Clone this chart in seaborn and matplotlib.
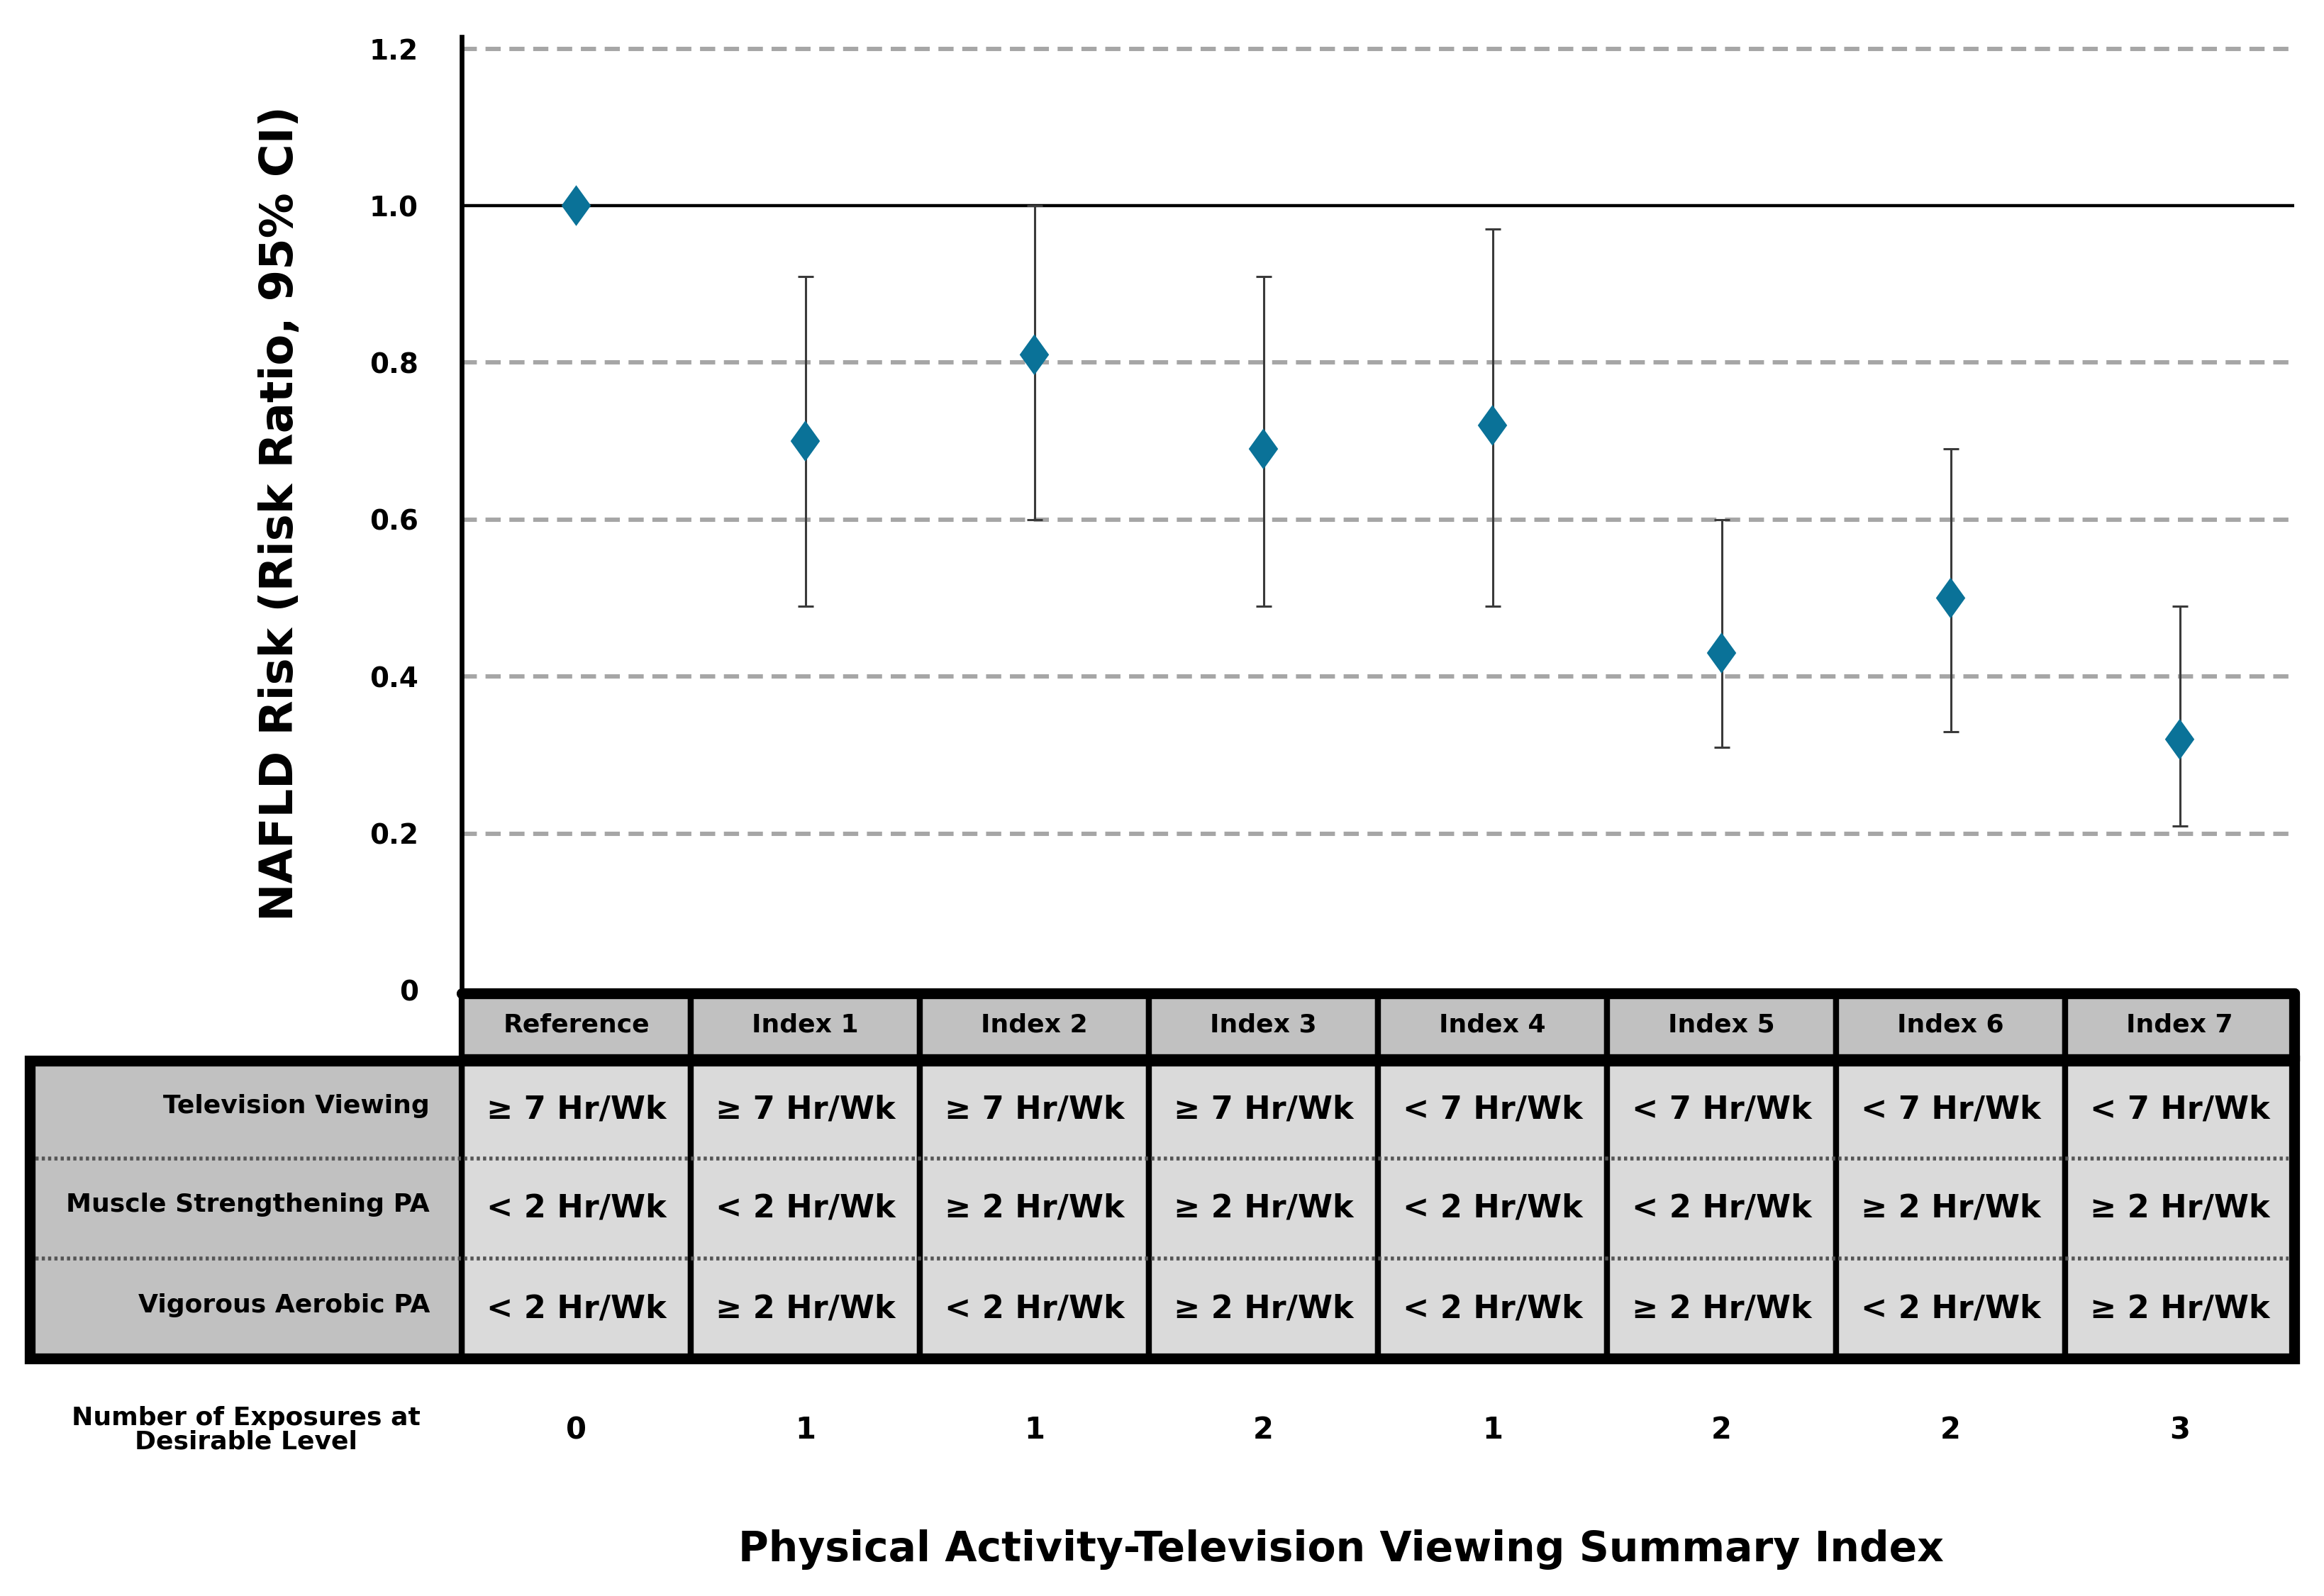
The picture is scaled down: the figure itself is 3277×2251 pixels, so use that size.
import numpy as np
import pandas as pd
import matplotlib
matplotlib.use("Agg")
import matplotlib.pyplot as plt
from matplotlib.patches import Rectangle
import seaborn as sns

# data
groups = ["Reference", "Index 1", "Index 2", "Index 3", "Index 4", "Index 5", "Index 6", "Index 7"]
risk_ratio = [1.00, 0.70, 0.81, 0.69, 0.72, 0.43, 0.50, 0.32]
ci_low = [1.00, 0.49, 0.60, 0.49, 0.49, 0.31, 0.33, 0.21]
ci_high = [1.00, 0.91, 1.00, 0.91, 0.97, 0.60, 0.69, 0.49]
row_names = ["Television Viewing", "Muscle Strengthening PA", "Vigorous Aerobic PA"]
tv = ["≥ 7 Hr/Wk"] * 4 + ["< 7 Hr/Wk"] * 4
muscle = ["< 2 Hr/Wk", "< 2 Hr/Wk", "≥ 2 Hr/Wk", "≥ 2 Hr/Wk", "< 2 Hr/Wk", "< 2 Hr/Wk", "≥ 2 Hr/Wk", "≥ 2 Hr/Wk"]
vigorous = ["< 2 Hr/Wk", "≥ 2 Hr/Wk", "< 2 Hr/Wk", "≥ 2 Hr/Wk", "< 2 Hr/Wk", "≥ 2 Hr/Wk", "< 2 Hr/Wk", "≥ 2 Hr/Wk"]
n_exposures = [0, 1, 1, 2, 1, 2, 2, 3]
yticks = [0, 0.2, 0.4, 0.6, 0.8, 1.0, 1.2]

df = pd.DataFrame({"pos": np.arange(len(groups)), "rr": risk_ratio,
                   "lo": ci_low, "hi": ci_high})

sns.set_style("white")
plt.rcParams["font.family"] = ["DejaVu Sans"]
plt.rcParams["font.weight"] = "bold"
plt.rcParams["text.color"] = "black"
plt.rcParams["ytick.color"] = "black"
plt.rcParams["axes.labelcolor"] = "black"

W, H = 3277, 2251
fig = plt.figure(figsize=(W / 200, H / 200), dpi=200)

# pixel layout
left, right = 651, 3235
y0_px, top_px = 1397, 52
ax = fig.add_axes([left / W, 1 - y0_px / H, (right - left) / W, (y0_px - top_px) / H])
ax.set_xlim(-0.5, 7.5)
ax.set_ylim(0, 1.215)

for v in [0.2, 0.4, 0.6, 0.8, 1.2]:
    ax.axhline(v, color="#a6a6a6", lw=2.2, ls=(0, (3.5, 2)), zorder=1)
ax.axhline(1.0, color="black", lw=1.6, zorder=1)

ax.errorbar(df["pos"][1:], df["rr"][1:],
            yerr=[df["rr"][1:] - df["lo"][1:], df["hi"][1:] - df["rr"][1:]],
            fmt="none", ecolor="#3a3a3a", elinewidth=1.1, capsize=4, capthick=1.1, zorder=2)
diamond = [(0, 1), (0.72, 0), (0, -1), (-0.72, 0), (0, 1)]
sns.scatterplot(data=df, x="pos", y="rr", marker=diamond, s=430, color="#0A7298",
                edgecolor="none", ax=ax, zorder=3)

ax.set_yticks(yticks)
ax.set_yticklabels(["0" if t == 0 else f"{t:.1f}" for t in yticks], fontsize=14, fontweight="bold")
ax.tick_params(axis="y", length=0, pad=22)
ax.set_xticks([])
ax.set_xlabel("")
ax.set_ylabel("NAFLD Risk (Risk Ratio, 95% CI)", fontsize=23, fontweight="bold", labelpad=34)
for s in ["top", "right", "bottom"]:
    ax.spines[s].set_visible(False)
ax.spines["left"].set_linewidth(2.4)
ax.spines["left"].set_color("black")

# table below the plot, drawn in pixel coordinates
tb = fig.add_axes([0, 0, 1, 1], zorder=5)
tb.set_xlim(0, W)
tb.set_ylim(H, 0)
tb.axis("off")
tb.patch.set_alpha(0)

colw = (right - left) / len(groups)
hdr_top, hdr_bot = 1401, 1491
tab_top, tab_bot = 1496, 1916
tab_left = 42
row_edges = [tab_top, 1634, 1775, tab_bot]

for i, g in enumerate(groups):
    x = left + i * colw
    tb.add_patch(Rectangle((x, hdr_top), colw, hdr_bot - hdr_top, facecolor="#c1c1c1",
                           edgecolor="black", lw=3))
    tb.text(x + colw / 2, (hdr_top + hdr_bot) / 2, g, ha="center", va="center",
            fontsize=13, fontweight="bold")
    tb.add_patch(Rectangle((x, tab_top), colw, tab_bot - tab_top, facecolor="#dadada",
                           edgecolor="black", lw=3))
tb.add_patch(Rectangle((tab_left, tab_top), left - tab_left, tab_bot - tab_top,
                       facecolor="#c1c1c1", edgecolor="black", lw=3))
tb.add_patch(Rectangle((tab_left, tab_top), right - tab_left, tab_bot - tab_top,
                       facecolor="none", edgecolor="black", lw=5.5))
tb.plot([left, right], [hdr_top, hdr_top], color="black", lw=5.5)
tb.plot([right, right], [hdr_top, tab_top], color="black", lw=5.5)
for yy in row_edges[1:3]:
    tb.plot([tab_left + 8, right - 8], [yy, yy], color="#555555", lw=2, ls=(0, (0.8, 0.8)))

for r, (name, vals) in enumerate(zip(row_names, [tv, muscle, vigorous])):
    yc = (row_edges[r] + row_edges[r + 1]) / 2
    tb.text(left - 45, yc - 5, name, ha="right", va="center", fontsize=13, fontweight="bold")
    for i, v in enumerate(vals):
        tb.text(left + (i + 0.5) * colw, yc, v, ha="center", va="center",
                fontsize=16, fontweight="bold")

tb.text(347, 2017, "Number of Exposures at\nDesirable Level", ha="center", va="center",
        fontsize=13, fontweight="bold", linespacing=1.0)
for i, n in enumerate(n_exposures):
    tb.text(left + (i + 0.5) * colw, 2017, str(n), ha="center", va="center",
            fontsize=15, fontweight="bold")

tb.text(1891, 2185, "Physical Activity-Television Viewing Summary Index", ha="center",
        va="center", fontsize=21, fontweight="bold")

fig.savefig("out.png", dpi=200)
